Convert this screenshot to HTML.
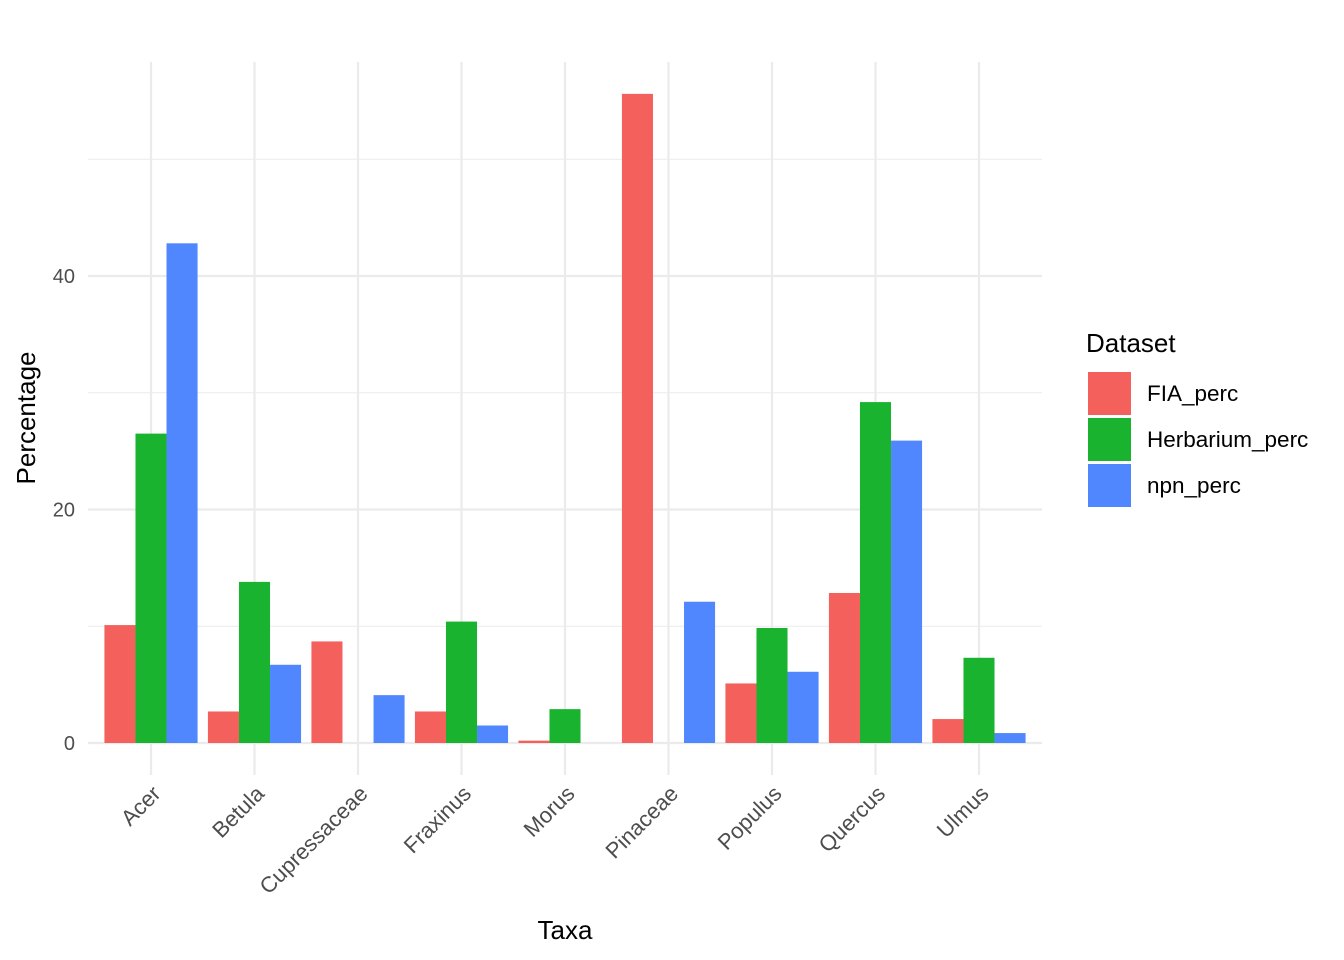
<!DOCTYPE html>
<html><head><meta charset="utf-8"><style>
html,body{margin:0;padding:0;background:#fff;}
svg{display:block;font-family:"Liberation Sans",Arial,sans-serif;}
</style></head><body>
<svg id="chart" width="1344" height="960"></svg>
<script>
const categories=["Acer","Betula","Cupressaceae","Fraxinus","Morus","Pinaceae","Populus","Quercus","Ulmus"];
const fiaValues=[10.1,2.7,8.7,2.7,0.2,55.6,5.1,12.85,2.05];
const herbariumValues=[26.5,13.8,0,10.4,2.9,0,9.85,29.2,7.3];
const npnValues=[42.8,6.7,4.1,1.5,0,12.1,6.1,25.9,0.85];
const seriesNames=["FIA_perc","Herbarium_perc","npn_perc"];
const seriesColors=["#F4605B","#19B32F","#5087FF"];
const majorTicks=[0,20,40];
const minorTicks=[10,30,50];

const NS="http://www.w3.org/2000/svg";
const svg=document.getElementById('chart');
const L=88,R=1042,T=62,B=775;
const y=v=>743-v*11.675;
const step=103.5;
const x=i=>151+step*i;
function mk(tag,attrs,parent){const e=document.createElementNS(NS,tag);for(const k in attrs)e.setAttribute(k,attrs[k]);(parent||svg).appendChild(e);return e;}

minorTicks.forEach(t=>{const l=mk('line',{x1:L,x2:R,y1:y(t),y2:y(t),stroke:'#ebebeb','stroke-width':1.1});

});
majorTicks.forEach(t=>{const l=mk('line',{x1:L,x2:R,y1:y(t),y2:y(t),stroke:'#ebebeb','stroke-width':2.2});


const tx=mk('text',{x:75,y:y(t)+7,'text-anchor':'end','font-size':20,fill:'#4d4d4d'});tx.textContent=t;

});
categories.forEach((c,i)=>{const l=mk('line',{x1:x(i),x2:x(i),y1:T,y2:B,stroke:'#ebebeb','stroke-width':2.2});

});

const all=[fiaValues,herbariumValues,npnValues];
const bw=step*0.9/3;
all.forEach((vals,s)=>{vals.forEach((v,i)=>{
 const bx=x(i)-step*0.45+s*bw;
 const r=mk('rect',{x:bx,y:y(v),width:bw,height:y(0)-y(v),fill:seriesColors[s]});
 
 
});});

categories.forEach((c,i)=>{const t=mk('text',{x:0,y:0,'text-anchor':'end','font-size':22,fill:'#4d4d4d',transform:`translate(${x(i)+11},${795}) rotate(-45)`});t.textContent=c;

});

let t=mk('text',{x:565,y:939,'text-anchor':'middle','font-size':26,fill:'#000'});t.textContent='Taxa';


t=mk('text',{x:0,y:0,'text-anchor':'middle','font-size':26,fill:'#000',transform:'translate(35,418) rotate(-90)'});t.textContent='Percentage';


t=mk('text',{x:1086,y:352,'font-size':26,fill:'#000'});t.textContent='Dataset';


seriesNames.forEach((n,s)=>{
 const g=mk('g',{});
 
 
 mk('rect',{x:1088,y:372+s*46,width:43,height:43,fill:seriesColors[s]},g);
 const tx=mk('text',{x:1147,y:401+s*46,'font-size':22.5,fill:'#000'},g);tx.textContent=n;
});
</script>
</body></html>
